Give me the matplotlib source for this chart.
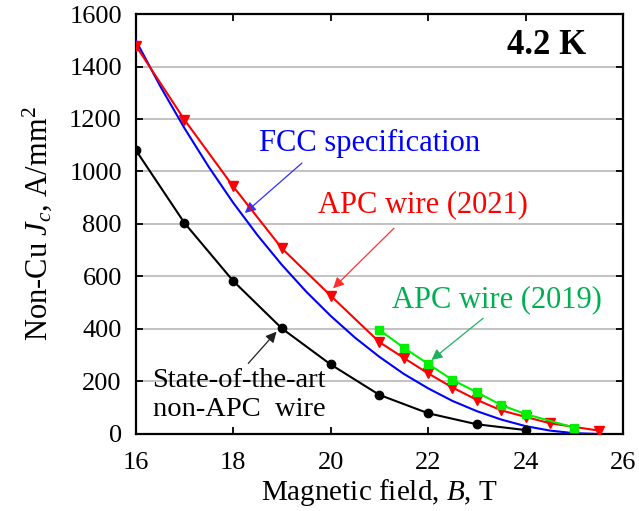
import matplotlib
matplotlib.use("Agg")
import matplotlib.pyplot as plt

# -----------------------------
# Data (B in T, Jc in A/mm^2)
# -----------------------------
fcc_b = [16, 16.5, 17, 17.5, 18, 18.5, 19, 19.5, 20, 20.5, 21, 21.5, 22,
         22.5, 23, 23.5, 24, 24.5, 25, 25.5]
fcc_jc = [1500, 1326, 1165, 1017, 881, 757, 644, 542, 450, 367, 294, 229, 174,
          126, 87, 55, 30, 13, 3, 0]

apc2021_b = [16, 17, 18, 19, 20, 21, 21.5, 22, 22.5, 23, 23.5, 24, 24.5, 25.5]
apc2021_jc = [1480, 1197, 943, 707, 527, 350, 290, 231, 177, 130, 90, 65, 41, 13]

apc2019_b = [21, 21.5, 22, 22.5, 23, 23.5, 24, 25]
apc2019_jc = [396, 329, 267, 206, 159, 110, 76, 24]

soa_b = [16, 17, 18, 19, 20, 21, 22, 23, 24]
soa_jc = [1082, 804, 583, 402, 265, 149, 79, 37, 15]

plt.rcParams['font.family'] = ['Liberation Serif', 'DejaVu Serif']
plt.rcParams['mathtext.fontset'] = 'custom'
plt.rcParams['mathtext.rm'] = 'Liberation Serif'
plt.rcParams['mathtext.it'] = 'Liberation Serif:italic'

fig = plt.figure(figsize=(6.39, 5.11), dpi=100)
ax = fig.add_axes([0.2124, 0.1507, 0.7626, 0.8219])

# -----------------------------
# Curves
# -----------------------------
ax.plot(fcc_b, fcc_jc, color='#0000ff', lw=1.5, zorder=3)
ax.plot(soa_b, soa_jc, color='black', lw=1.5, marker='o', ms=6, zorder=4)
ax.plot(apc2021_b, apc2021_jc, color='#ff0000', lw=1.5, marker='v', ms=7.5, zorder=4)
ax.plot(apc2019_b, apc2019_jc, color='#00f000', lw=1.5, marker='s', ms=6, zorder=5)

ax.set_xlim(16, 26)
ax.set_ylim(0, 1600)
ax.set_xticks([16, 18, 20, 22, 24, 26])
ax.set_yticks(range(0, 1601, 200))
ax.yaxis.grid(True, color='#b8b8b8', lw=1.2)
ax.set_axisbelow(True)

ax.tick_params(direction='in', top=True, right=True, length=5, width=1.3,
               labelsize=19)
ax.tick_params(axis='x', pad=13)
ax.tick_params(axis='y', pad=10)
for s in ax.spines.values():
    s.set_linewidth(1.6)

ax.set_xlabel(r"Magnetic field, $B$, T", fontsize=21, labelpad=2)
ax.set_ylabel(r"Non-Cu $J_c$, A/mm$^2$", fontsize=22)
ax.yaxis.set_label_coords(-0.168, 0.5)

# -----------------------------
# Labels and arrows
# -----------------------------
ax.text(25.25, 1480, "4.2 K", fontsize=25, fontweight='bold', ha='right', va='center')

ax.text(20.8, 1105, "FCC specification", color='#0000ff', fontsize=22,
        ha='center', va='center')
ax.annotate('', xy=(18.24, 842), xytext=(19.41, 1032),
            arrowprops=dict(arrowstyle='-|>', color='#3030ff', lw=0.9,
                            mutation_scale=16, shrinkA=0, shrinkB=0))

ax.text(21.9, 872, "APC wire (2021)", color='#ff0000', fontsize=22,
        ha='center', va='center')
ax.annotate('', xy=(20.05, 555), xytext=(21.3, 784),
            arrowprops=dict(arrowstyle='-|>', color='#ff3030', lw=0.9,
                            mutation_scale=16, shrinkA=0, shrinkB=0))

ax.text(23.42, 510, "APC wire (2019)", color='#00b050', fontsize=22,
        ha='center', va='center')
ax.annotate('', xy=(22.07, 282), xytext=(23.13, 441),
            arrowprops=dict(arrowstyle='-|>', color='#20b060', lw=0.9,
                            mutation_scale=16, shrinkA=0, shrinkB=0))

ax.text(18.12, 149, "State-of-the-art\nnon-APC  wire", color='black', fontsize=20.5,
        ha='center', va='center', linespacing=1.25)
ax.annotate('', xy=(18.89, 390), xytext=(18.31, 269),
            arrowprops=dict(arrowstyle='-|>', color='#202020', lw=0.9,
                            mutation_scale=16, shrinkA=0, shrinkB=0))

fig.savefig("out.png", dpi=100)
